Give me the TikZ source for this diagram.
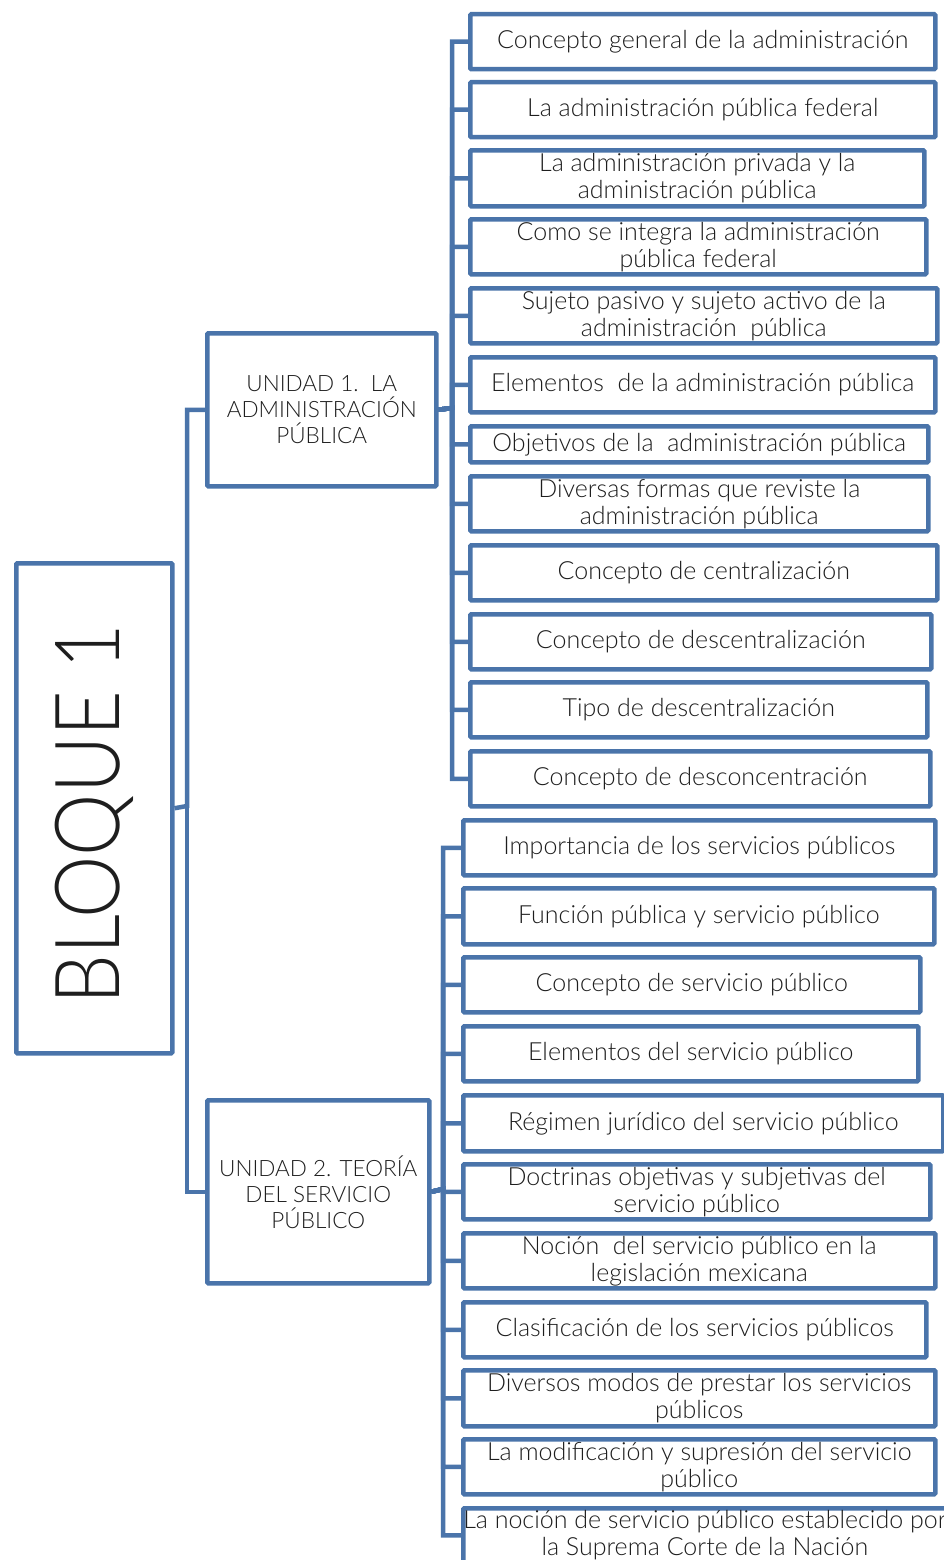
\documentclass[tikz,border=0pt]{standalone}
\usepackage{fontspec}
\setmainfont{Lato Light}
\definecolor{boxblue}{RGB}{74,116,170}
\definecolor{txt}{RGB}{30,30,30}
\begin{document}
\begin{tikzpicture}[x=1pt,y=-1pt,
  box/.style={draw=boxblue, line width=4.5pt, rounded corners=1pt, fill=white, anchor=north west,
    inner sep=0pt, align=center, text=txt, font=\fontsize{25}{27}\selectfont},
  unitbox/.style={box, font=\fontsize{22.5}{26}\selectfont},
  conn/.style={draw=boxblue, line width=4.5pt}]
\useasboundingbox (0,0) rectangle (944,1560);
% main box
\node[box, minimum width=156pt, minimum height=490pt] (b) at (14,561) {};
\node[text=txt, rotate=90, font=\fontsize{90}{94}\selectfont, inner sep=0pt] (bt) at ([yshift=-6pt]b.center) {\scalebox{0.875}[1]{BLOQUE 1}};
% units
\node[unitbox, minimum width=229pt, minimum height=153pt] (u1) at (205,331) {UNIDAD 1.\ \ LA\\ADMINISTRACIÓN\\PÚBLICA};
\node[unitbox, minimum width=222pt, minimum height=183pt] (u2) at (205,1098) {UNIDAD 2. TEORÍA\\DEL SERVICIO\\PÚBLICO};
% unit 1 leaves
\node[box, minimum width=465pt, minimum height=55pt] (a1) at (468,12) {Concepto general de la administración};
\node[box, minimum width=465pt, minimum height=55pt] (a2) at (468,80) {La administración pública federal};
\node[box, minimum width=454pt, minimum height=56pt] (a3) at (468,148) {La administración privada y la\\administración pública};
\node[box, minimum width=456pt, minimum height=55pt] (a4) at (468,217) {Como se integra la administración\\pública federal};
\node[box, minimum width=467pt, minimum height=55pt] (a5) at (468,286) {Sujeto pasivo y sujeto activo de la\\administración\ \ pública};
\node[box, minimum width=465pt, minimum height=55pt] (a6) at (468,355) {Elementos\ \ de la administración pública};
\node[box, minimum width=458pt, minimum height=36pt] (a7) at (468,424) {Objetivos de la\ \ administración pública};
\node[box, minimum width=458pt, minimum height=55pt] (a8) at (468,474) {Diversas formas que reviste la\\administración pública};
\node[box, minimum width=467pt, minimum height=55pt] (a9) at (468,543) {Concepto de centralización};
\node[box, minimum width=461pt, minimum height=55pt] (a10) at (468,612) {Concepto de descentralización};
\node[box, minimum width=457pt, minimum height=55pt] (a11) at (468,680) {Tipo de descentralización};
\node[box, minimum width=460pt, minimum height=55pt] (a12) at (468,749) {Concepto de desconcentración};
% unit 2 leaves
\node[box, minimum width=472pt, minimum height=55pt] (c1) at (461,818) {Importancia de los servicios públicos};
\node[box, minimum width=471pt, minimum height=56pt] (c2) at (461,886) {Función pública y servicio público};
\node[box, minimum width=457pt, minimum height=55pt] (c3) at (461,955) {Concepto de servicio público};
\node[box, minimum width=455pt, minimum height=55pt] (c4) at (461,1024) {Elementos del servicio público};
\node[box, minimum width=480pt, minimum height=56pt] (c5) at (461,1093) {Régimen jurídico del servicio público};
\node[box, minimum width=467pt, minimum height=55pt] (c6) at (461,1162) {Doctrinas objetivas y subjetivas del\\servicio público};
\node[box, minimum width=472pt, minimum height=55pt] (c7) at (461,1231) {Noción\ \ del servicio público en la\\legislación mexicana};
\node[box, minimum width=463pt, minimum height=55pt] (c8) at (461,1300) {Clasificación de los servicios públicos};
\node[box, minimum width=472pt, minimum height=56pt] (c9) at (461,1368) {Diversos modos de prestar los servicios\\públicos};
\node[box, minimum width=472pt, minimum height=55pt] (c10) at (461,1437) {La modificación y supresión del servicio\\público};
\node[box, minimum width=480pt, minimum height=54pt] (c11) at (461,1506) {La noción de servicio público establecido por\\la Suprema Corte de la Nación};
% junctions
\coordinate (t0) at (187,806);
\coordinate (t1) at (452,408);
\coordinate (t2) at (443,1189);
\draw[conn] (b.east) -- (t0) |- (u1.west);
\draw[conn] (t0) |- (u2.west);
\foreach \n in {a1,a2,a3,a4,a5,a6,a7,a8,a9,a10,a11,a12}{
  \draw[conn] (u1.east) -- (t1) |- (\n.west);
}
\foreach \n in {c1,c2,c3,c4,c5,c6,c7,c8,c9,c10,c11}{
  \draw[conn] (u2.east) -- (t2) |- (\n.west);
}
\end{tikzpicture}
\end{document}
